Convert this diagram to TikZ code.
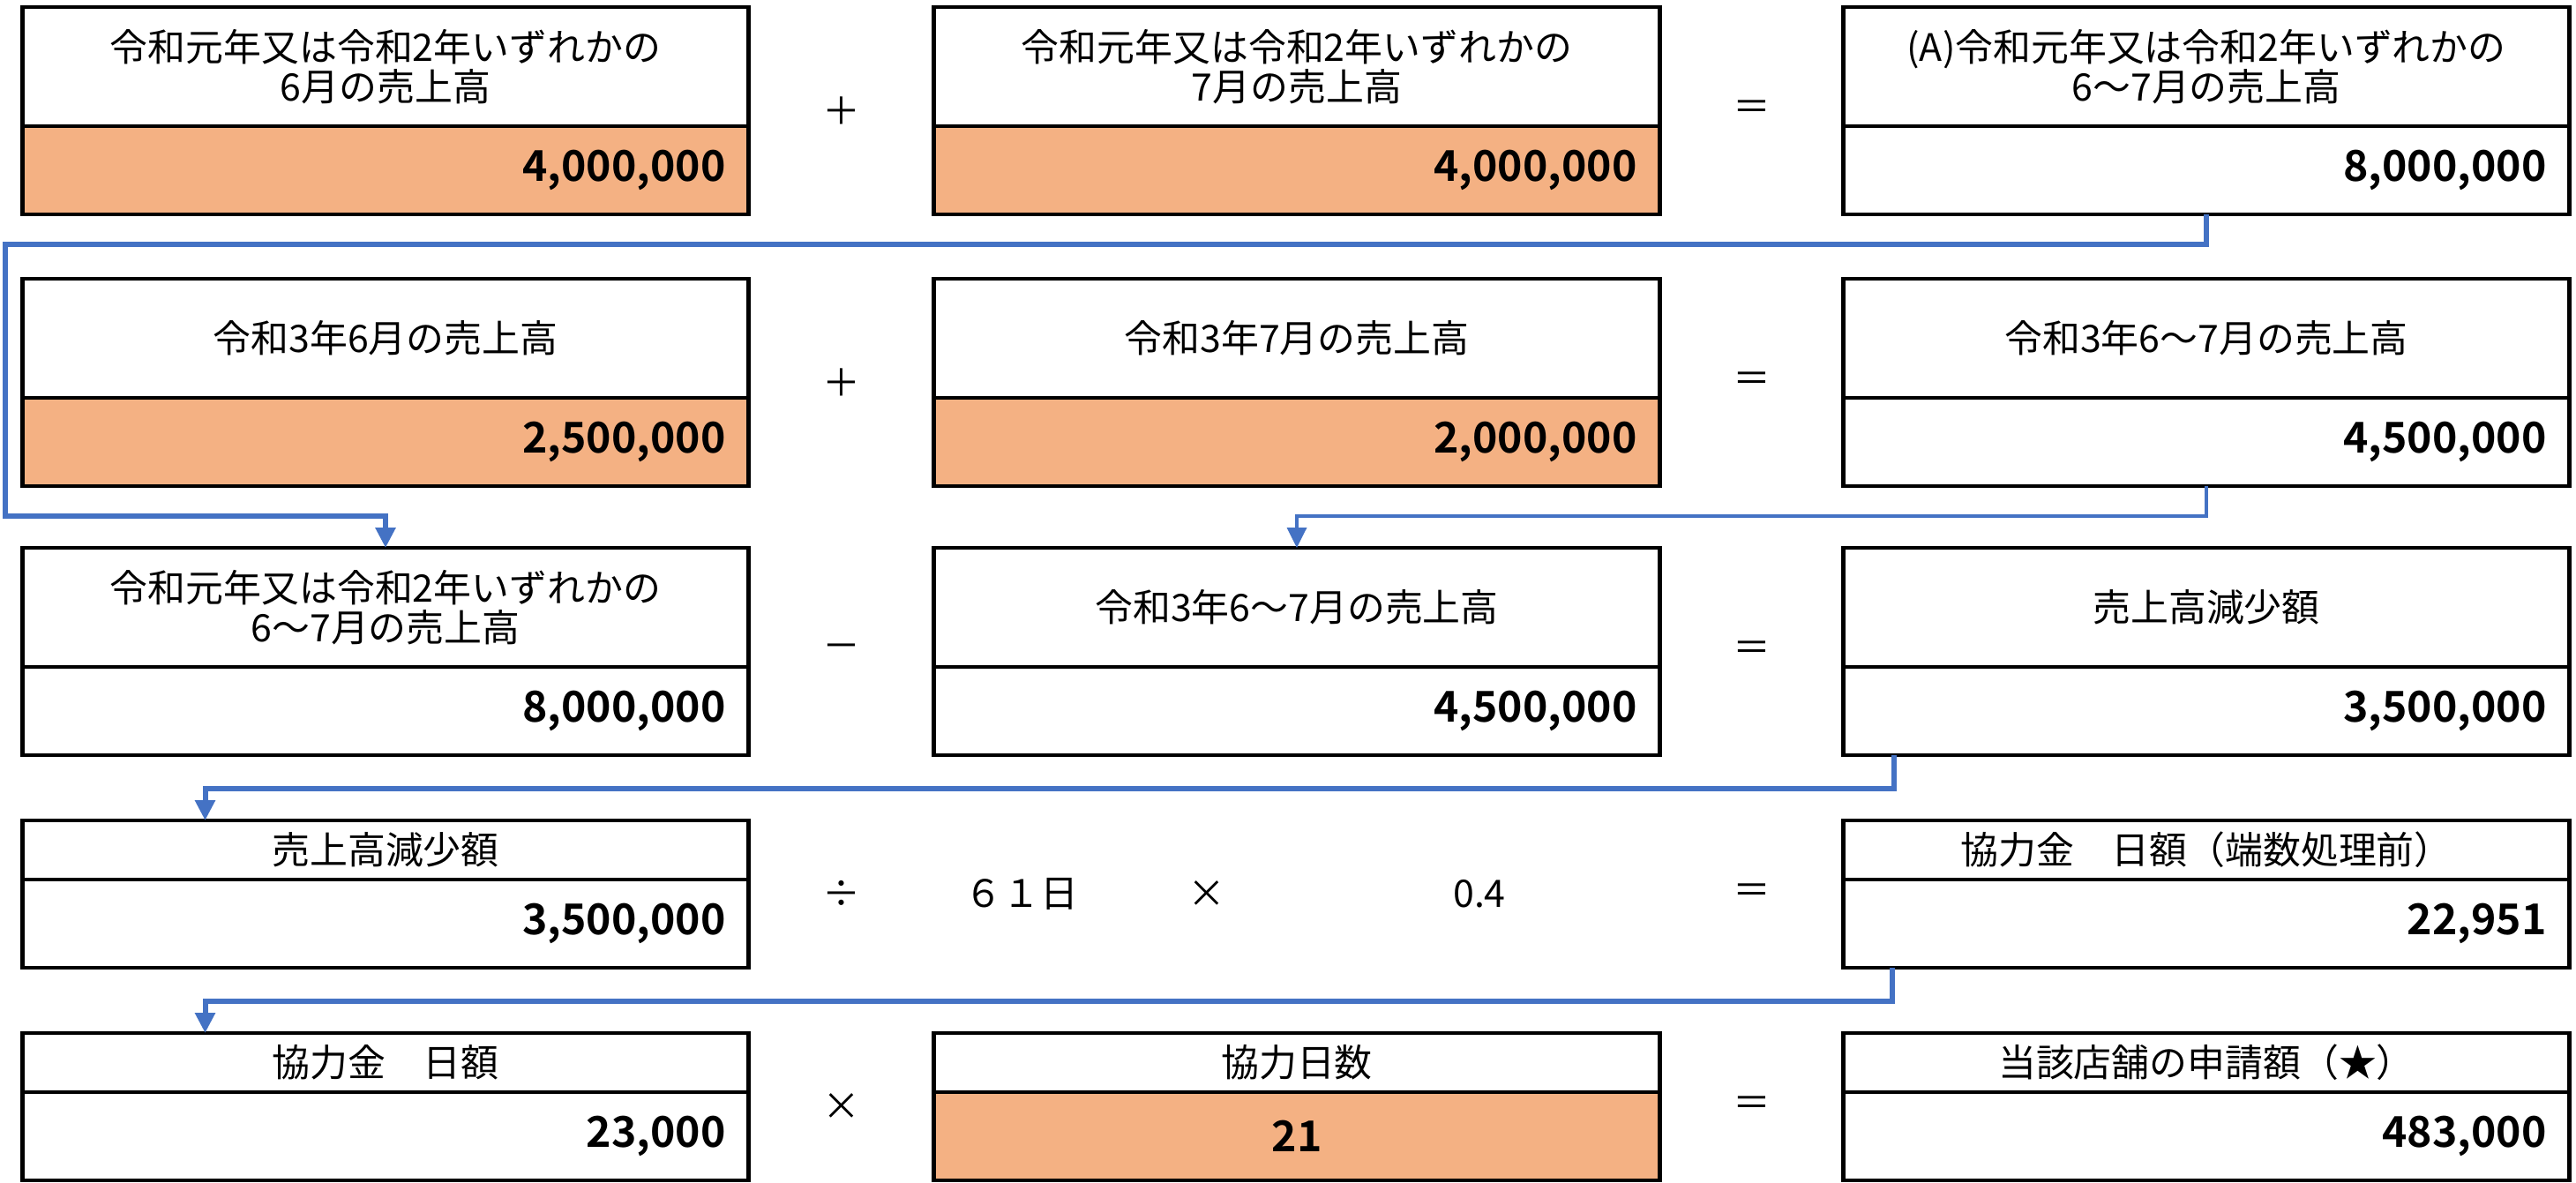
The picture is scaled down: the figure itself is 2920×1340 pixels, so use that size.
\documentclass[tikz,border=0pt]{standalone}
\usepackage{fontspec}
\usepackage{tikz}
\usetikzlibrary{arrows.meta}
\newfontfamily\jpfont{Noto Sans CJK JP}[BoldFont={Noto Sans CJK JP Bold}]
\definecolor{inputfill}{HTML}{F4B183}
\definecolor{flowblue}{HTML}{4472C4}

\begin{document}
\begin{tikzpicture}[x=0.1mm, y=-0.1mm,
    head/.style={draw, line width=0.47mm, outer sep=0pt, minimum width=82.3mm, minimum height=13.5mm,
                 align=center, font=\jpfont\fontsize{12.2}{12.8}\selectfont},
    shorthead/.style={head, minimum height=6.7mm},
    val/.style={draw, line width=0.47mm, outer sep=0pt, minimum height=10mm, text width=77.1mm,
                inner xsep=2.6mm, align=right, font=\jpfont\bfseries\fontsize{13.7}{14}\selectfont},
    input/.style={val, fill=inputfill},
    op/.style={font=\jpfont\fontsize{12.2}{12.8}\selectfont},
    flow/.style={draw=flowblue, line width=0.6mm, -{Triangle[width=2.2mm,length=2.3mm]}}]
    \useasboundingbox (0,0) rectangle (2920,1340);

    % Nodes
    % row 1
    \node[head] (prevJun) at (437,75.5) {令和元年又は令和2年いずれかの\\6月の売上高};
    \node[input] (prevJunV) at (437,193) {4,000,000};
    \node[op] (plus1) at (954,125.5) {＋};
    \node[head] (prevJul) at (1470,75.5) {令和元年又は令和2年いずれかの\\7月の売上高};
    \node[input] (prevJulV) at (1470,193) {4,000,000};
    \node[op] (eq1) at (1986,125.5) {＝};
    \node[head] (prevSum) at (2501,75.5) {(A)令和元年又は令和2年いずれかの\\6～7月の売上高};
    \node[val] (prevSumV) at (2501,193) {8,000,000};

    % row 2
    \node[head] (curJun) at (437,383.5) {令和3年6月の売上高};
    \node[input] (curJunV) at (437,501) {2,500,000};
    \node[op] (plus2) at (954,433.5) {＋};
    \node[head] (curJul) at (1470,383.5) {令和3年7月の売上高};
    \node[input] (curJulV) at (1470,501) {2,000,000};
    \node[op] (eq2) at (1986,433.5) {＝};
    \node[head] (curSum) at (2501,383.5) {令和3年6～7月の売上高};
    \node[val] (curSumV) at (2501,501) {4,500,000};

    % row 3
    \node[head] (prevSum2) at (437,688.5) {令和元年又は令和2年いずれかの\\6～7月の売上高};
    \node[val] (prevSum2V) at (437,806) {8,000,000};
    \node[op] (minus3) at (954,738.5) {－};
    \node[head] (curSum2) at (1470,688.5) {令和3年6～7月の売上高};
    \node[val] (curSum2V) at (1470,806) {4,500,000};
    \node[op] (eq3) at (1986,738.5) {＝};
    \node[head] (drop) at (2501,688.5) {売上高減少額};
    \node[val] (dropV) at (2501,806) {3,500,000};

    % row 4
    \node[shorthead] (drop2) at (437,963.5) {売上高減少額};
    \node[val] (drop2V) at (437,1047) {3,500,000};
    \node[op] (div4) at (954,1013.5) {÷};
    \node[op] (days61) at (1158,1013.5) {６１日};
    \node[op] (times4) at (1368,1013.5) {×};
    \node[op] (rate) at (1677,1013.5) {0.4};
    \node[op] (eq4) at (1986,1013.5) {＝};
    \node[shorthead] (daily) at (2501,963.5) {協力金　日額（端数処理前）};
    \node[val] (dailyV) at (2501,1047) {22,951};

    % row 5
    \node[shorthead] (dailyR) at (437,1204.5) {協力金　日額};
    \node[val] (dailyRV) at (437,1288) {23,000};
    \node[op] (times5) at (954,1254.5) {×};
    \node[shorthead] (days) at (1470,1204.5) {協力日数};
    \node[input, align=center] (daysV) at (1470,1288) {21};
    \node[op] (eq5) at (1986,1254.5) {＝};
    \node[shorthead] (claim) at (2501,1204.5) {当該店舗の申請額（★）};
    \node[val] (claimV) at (2501,1288) {483,000};

    % Edges
    \coordinate (turnA) at (6,277);
    \coordinate (turnB) at (6,585);
    \draw[flow] (prevSumV.south) |- (turnA) -- (turnB) -| (prevSum2.north);
    \draw[flow, line width=0.35mm] (curSumV.south) -- ++(0,34) -| (curSum2.north);
    \draw[flow] ([xshift=5.7mm]dropV.south west) -- ++(0,38) -| ([xshift=20.7mm]drop2.north west);
    \draw[flow] ([xshift=5.5mm]dailyV.south west) -- ++(0,38) -| ([xshift=20.7mm]dailyR.north west);
\end{tikzpicture}
\end{document}
